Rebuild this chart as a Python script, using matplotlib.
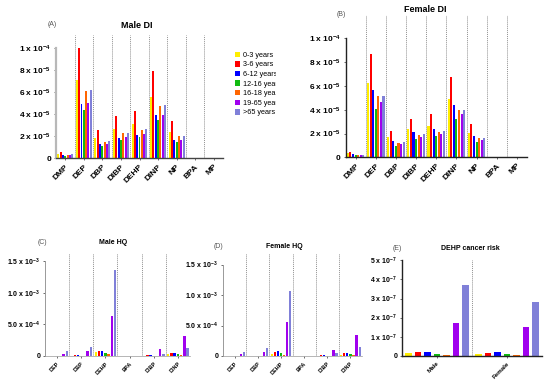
import matplotlib
matplotlib.use('Agg')
import matplotlib.pyplot as plt
from matplotlib.patches import Patch
from matplotlib.transforms import Bbox, TransformedBbox
import numpy as np

plt.rcParams['font.family'] = ['Liberation Sans', 'DejaVu Sans']
plt.rcParams['mathtext.fontset'] = 'custom'
plt.rcParams['mathtext.rm'] = 'Liberation Sans:bold'
plt.rcParams['mathtext.default'] = 'rm'

# age groups and colours
ages = ['0-3 years', '3-6 years', '6-12 years', '12-16 years', '16-18 years', '19-65 years', '>65 years']
colors = ['#ffee00', '#ff0000', '#0000ff', '#11bb11', '#ff6600', '#a000ee', '#8080d8']

# (A) Male DI, units 1e-5, one row per age group
di_groups = ['DMP', 'DEP', 'DBP', 'DIBP', 'DEHP', 'DINP', 'NP', 'BPA', 'MP']
male_di = [
    [0.40, 7.10, 1.80, 2.67, 3.10, 5.60, 2.40, 0.02, 0.01],
    [0.58, 10.0, 2.60, 3.80, 4.30, 7.90, 3.40, 0.06, 0.01],
    [0.30, 4.94, 1.30, 1.88, 2.12, 3.90, 1.67, 0.03, 0.01],
    [0.24, 4.40, 1.12, 1.67, 1.90, 3.50, 1.45, 0.02, 0.01],
    [0.33, 6.10, 1.50, 2.27, 2.58, 4.76, 2.06, 0.03, 0.01],
    [0.30, 5.06, 1.30, 1.90, 2.20, 3.97, 1.67, 0.02, 0.01],
    [0.36, 6.18, 1.58, 2.33, 2.64, 4.85, 2.06, 0.02, 0.01],
]
# (B) Female DI, units 1e-5
female_di = [
    [0.34, 6.25, 1.70, 2.37, 2.65, 4.90, 2.03, 0.02, 0.01],
    [0.45, 8.65, 2.20, 3.20, 3.66, 6.73, 2.80, 0.05, 0.01],
    [0.25, 5.63, 1.41, 2.10, 2.40, 4.40, 1.80, 0.02, 0.01],
    [0.17, 4.10, 0.99, 1.50, 1.75, 3.18, 1.30, 0.02, 0.01],
    [0.20, 5.18, 1.24, 1.86, 2.10, 4.00, 1.66, 0.02, 0.01],
    [0.20, 4.68, 1.13, 1.70, 1.97, 3.60, 1.46, 0.02, 0.01],
    [0.20, 5.13, 1.27, 1.92, 2.17, 3.97, 1.63, 0.02, 0.01],
]
# (C) Male HQ, units 1e-3
hq_groups = ['DEP', 'DBP', 'DEHP', 'BPA', 'DIBP', 'DINP']
male_hq = [
    [0.002, 0.005, 0.068, 0.001, 0.005, 0.037],
    [0.003, 0.010, 0.074, 0.001, 0.010, 0.050],
    [0.002, 0.008, 0.074, 0.001, 0.013, 0.050],
    [0.001, 0.004, 0.040, 0.000, 0.006, 0.030],
    [0.001, 0.004, 0.026, 0.000, 0.005, 0.020],
    [0.030, 0.074, 0.630, 0.002, 0.110, 0.310],
    [0.074, 0.150, 1.360, 0.004, 0.030, 0.130],
]
# (D) Female HQ, units 1e-3
female_hq = [
    [0.002, 0.004, 0.040, 0.001, 0.004, 0.020],
    [0.003, 0.008, 0.070, 0.001, 0.010, 0.044],
    [0.002, 0.006, 0.088, 0.001, 0.016, 0.050],
    [0.001, 0.003, 0.044, 0.000, 0.005, 0.027],
    [0.001, 0.003, 0.022, 0.000, 0.004, 0.016],
    [0.033, 0.066, 0.550, 0.002, 0.100, 0.350],
    [0.060, 0.126, 1.070, 0.004, 0.044, 0.154],
]
# (E) DEHP cancer risk, units 1e-7
risk_groups = ['Male', 'Female']
cancer_risk = [
    [0.14, 0.10],
    [0.19, 0.15],
    [0.19, 0.20],
    [0.10, 0.08],
    [0.05, 0.04],
    [1.71, 1.48],
    [3.70, 2.83],
]

W, H = 550, 381
fig = plt.figure(figsize=(W / 100, H / 100), dpi=100)


def px_axes(x0, y_top, x1, y_bot):
    return fig.add_axes([x0 / W, 1 - y_bot / H, (x1 - x0) / W, (y_bot - y_top) / H])


def grouped(ax, rows, scale, groups, step, width, ymax, spine_top, ticks, ticklabels,
            fs_y, fs_x, left_col, bottom_col, lw_left=0.8, lw_bottom=0.8, sep=True):
    n = len(rows)
    x = np.arange(len(groups))
    for i, row in enumerate(rows):
        off = (i - (n - 1) / 2) * step
        ax.bar(x + off, np.array(row) * scale, width=width, color=colors[i], linewidth=0)
    ax.set_xlim(-0.5, len(groups) - 0.5)
    ax.set_ylim(0, ymax)
    if sep:
        for k in range(1, len(groups)):
            ax.axvline(k - 0.5, color='#909090', lw=0.7, ls=(0, (1, 1)))
    for s in ['top', 'right']:
        ax.spines[s].set_visible(False)
    ax.spines['left'].set_bounds(0, spine_top)
    ax.spines['left'].set_color(left_col)
    ax.spines['left'].set_linewidth(lw_left)
    ax.spines['bottom'].set_color(bottom_col)
    ax.spines['bottom'].set_linewidth(lw_bottom)
    ax.set_yticks(ticks)
    ax.set_yticklabels(ticklabels, fontsize=fs_y, fontweight='bold')
    ax.set_xticks(x)
    ax.set_xticklabels(groups, rotation=45, ha='right', rotation_mode='anchor',
                       fontsize=fs_x, fontweight='bold')
    ax.tick_params(axis='y', length=1.5, width=0.5, pad=2, colors='#333333')
    ax.tick_params(axis='x', length=1.5, width=0.5, pad=2, colors='#333333')
    for lab in ax.get_xticklabels() + ax.get_yticklabels():
        lab.set_color('black')
    ax.patch.set_alpha(0)


di_ticks = [0, 2e-5, 4e-5, 6e-5, 8e-5, 1e-4]
di_labels = ['0', r'2 x 10$^{-5}$', r'4 x 10$^{-5}$', r'6 x 10$^{-5}$', r'8 x 10$^{-5}$', r'1 x 10$^{-4}$']

# (A)
axA = px_axes(56, 35, 223, 158.3)
grouped(axA, male_di, 1e-5, di_groups, 0.125, 0.105, 1.12e-4, 1e-4, di_ticks, di_labels,
        6, 6, '#b8b8b8', '#444444', lw_left=1.6, lw_bottom=1.0)

# (B)
axB = px_axes(345.5, 15, 527, 157.3)
grouped(axB, female_di, 1e-5, di_groups, 0.128, 0.1, 1.196e-4, 1e-4, di_ticks, di_labels,
        6, 6, '#222222', '#222222', lw_left=1.0, lw_bottom=1.0)

hq_ticks = [0, 5e-4, 1e-3, 1.5e-3]
hq_labels = ['0', r'5.0 x 10$^{-4}$', r'1.0 x 10$^{-3}$', r'1.5 x 10$^{-3}$']

# (C)
axC = px_axes(45, 253, 190, 356)
grouped(axC, male_hq, 1e-3, hq_groups, 0.133, 0.1, 1.63e-3, 1.5e-3, hq_ticks, hq_labels,
        5, 4, '#999999', '#999999', lw_left=0.7, lw_bottom=0.5)

# (D)
axD = px_axes(223, 253, 362, 356)
grouped(axD, female_hq, 1e-3, hq_groups, 0.133, 0.1, 1.69e-3, 1.5e-3, hq_ticks, hq_labels,
        5, 4, '#999999', '#999999', lw_left=0.7, lw_bottom=0.5)

# (E)
risk_ticks = [0, 1e-7, 2e-7, 3e-7, 4e-7, 5e-7]
risk_labels = ['0'] + [r'%d x 10$^{-7}$' % k for k in range(1, 6)]
axE = px_axes(402, 260, 542, 355.7)
grouped(axE, cancer_risk, 1e-7, risk_groups, 0.136, 0.093, 5.02e-7, 5e-7, risk_ticks, risk_labels,
        5, 4.5, '#222222', '#222222', lw_left=1.0, lw_bottom=1.0)

# titles and panel letters
title_kw = dict(ha='center', va='center', fontweight='bold')
fig.text(137 / W, 1 - 25 / H, 'Male DI', fontsize=6.5, **title_kw)
fig.text(425 / W, 1 - 9 / H, 'Female DI', fontsize=6.5, **title_kw)
fig.text(113 / W, 1 - 242 / H, 'Male HQ', fontsize=5, **title_kw)
fig.text(284 / W, 1 - 246 / H, 'Female HQ', fontsize=5, **title_kw)
fig.text(470 / W, 1 - 249 / H, 'DEHP cancer risk', fontsize=5, **title_kw)
letter_kw = dict(ha='center', va='center', color='#555555', fontsize=5)
fig.text(52 / W, 1 - 25 / H, '(A)', **letter_kw)
fig.text(341 / W, 1 - 15 / H, '(B)', **letter_kw)
fig.text(42 / W, 1 - 242 / H, '(C)', **letter_kw)
fig.text(219 / W, 1 - 246 / H, '(D)', **letter_kw)
fig.text(397 / W, 1 - 249 / H, '(E)', **letter_kw)

# legend for panel A, cut off at the panel edge
handles = [Patch(facecolor=c, edgecolor='none') for c in colors]
leg = fig.legend(handles, ages, loc='upper left', bbox_to_anchor=(231 / W, 1 - 48 / H),
                 frameon=False, fontsize=5.2, handlelength=0.75, handleheight=0.8,
                 handletextpad=0.45, labelspacing=0.32, borderpad=0)
clip = TransformedBbox(Bbox([[0, 0], [276 / W, 1]]), fig.transFigure)
for t in leg.get_texts():
    t.set_clip_box(clip)
    t.set_clip_on(True)

fig.savefig('out.png', dpi=100)
